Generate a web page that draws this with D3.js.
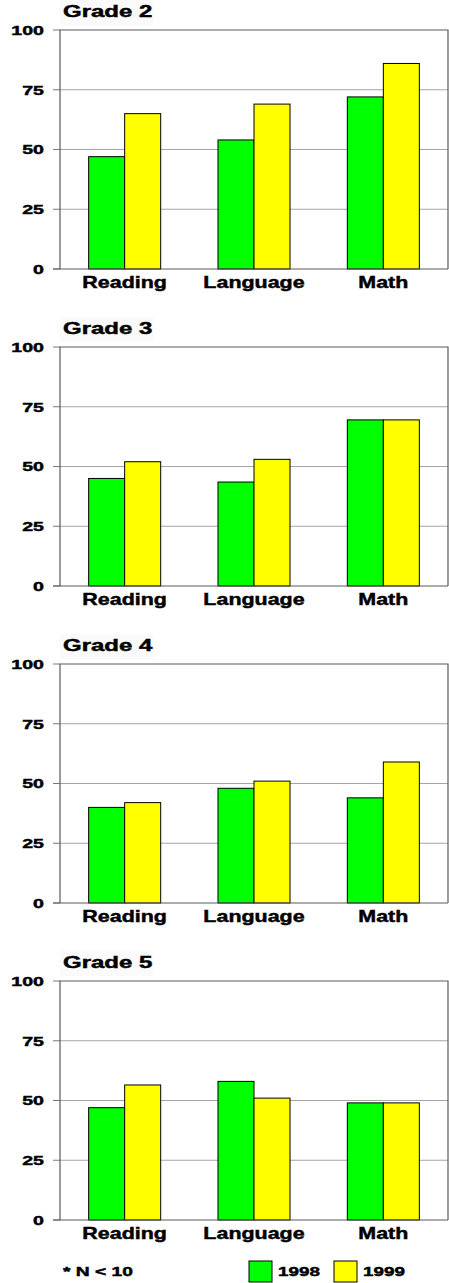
<!DOCTYPE html>
<html>
<head>
<meta charset="utf-8">
<script src="https://cdn.jsdelivr.net/npm/d3@7"></script>
<style>
  body { margin: 0; background: #fff; }
  text { font-family: "Liberation Sans", Arial, sans-serif; font-weight: bold; fill: #000; stroke: #000; stroke-width: 0.45px; }
</style>
</head>
<body>
<div id="chart"></div>
<script>
var grades = ["Grade 2", "Grade 3", "Grade 4", "Grade 5"]
var subjects = ["Reading", "Language", "Math"]
var years = ["1998", "1999"]
var yTicks = [0, 25, 50, 75, 100]

// values per grade, one array per year, in subject order
var values1998 = [
  [47, 54, 72],
  [45, 43.5, 69.5],
  [40, 48, 44],
  [47, 58, 49]
]
var values1999 = [
  [65, 69, 86],
  [52, 53, 69.5],
  [42, 51, 59],
  [56.5, 51, 49]
]
var footnote = "* N < 10"

var W = 449, H = 1283
var colors = { "1998": "#00ff00", "1999": "#ffff00" }

var dims = {
  "left": 60,
  "right": 448,
  "first_top": 30,
  "panel_step": 317,
  "plot_height": 239
}

var svg = d3.select("#chart").append("svg")
  .attr("width", W)
  .attr("height", H)

// wide bold lettering: draw text squeezed into a horizontal scale
function wideText(g, x, y, str, size, sx, anchor) {
  return g.append("text")
    .attr("transform", "scale(" + sx + ",1)")
    .attr("x", x / sx)
    .attr("y", y)
    .attr("font-size", size)
    .attr("text-anchor", anchor || "start")
    .text(str)
}

var x0 = d3.scaleBand()
  .domain(subjects)
  .range([dims.left, dims.right])
  .paddingInner(0.443)
  .paddingOuter(0.2215)

var x1 = d3.scaleBand()
  .domain(years)
  .range([0, x0.bandwidth()])

grades.forEach(function (grade, gi) {
  var top = dims.first_top + gi * dims.panel_step
  var bottom = top + dims.plot_height

  var y = d3.scaleLinear().domain([0, 100]).range([bottom, top])

  var g = svg.append("g").attr("class", "panel")

  // title backdrop (faint, as in the source image)
  g.append("rect")
    .attr("x", 60)
    .attr("y", top - 30)
    .attr("width", 93)
    .attr("height", 25)
    .attr("fill", "#fafafa")

  // gridlines
  g.selectAll("line.grid")
    .data(yTicks.filter(function (t) { return t > 0 && t < 100 }))
    .enter().append("line")
      .attr("class", "grid")
      .attr("x1", dims.left)
      .attr("x2", dims.right)
      .attr("y1", function (d) { return y(d) })
      .attr("y2", function (d) { return y(d) })
      .attr("stroke", "#a6a6a6")
      .attr("stroke-width", 1)

  // tick marks
  g.selectAll("line.tick")
    .data(yTicks)
    .enter().append("line")
      .attr("class", "tick")
      .attr("x1", dims.left - 7)
      .attr("x2", dims.left)
      .attr("y1", function (d) { return y(d) })
      .attr("y2", function (d) { return y(d) })
      .attr("stroke", "#7a7a7a")

  // frame
  g.append("polyline")
    .attr("points", [
      [dims.left, bottom], [dims.left, top], [dims.right, top], [dims.right, bottom]
    ].map(function (p) { return p.join(",") }).join(" "))
    .attr("fill", "none")
    .attr("stroke", "#5a5a5a")
    .attr("stroke-width", 1.2)

  var rows = [values1998[gi], values1999[gi]]
  var bars = []
  subjects.forEach(function (s, si) {
    years.forEach(function (yr, yi) {
      bars.push({ subject: s, year: yr, value: rows[yi][si] })
    })
  })

  g.selectAll("rect.bar")
    .data(bars)
    .enter().append("rect")
      .attr("class", "bar")
      .attr("x", function (d) { return x0(d.subject) + x1(d.year) })
      .attr("y", function (d) { return y(d.value) })
      .attr("width", x1.bandwidth())
      .attr("height", function (d) { return bottom - y(d.value) })
      .attr("fill", function (d) { return colors[d.year] })
      .attr("stroke", "#000")
      .attr("stroke-width", 1)

  // baseline
  g.append("line")
    .attr("x1", dims.left - 7)
    .attr("x2", dims.right)
    .attr("y1", bottom)
    .attr("y2", bottom)
    .attr("stroke", "#5a5a5a")
    .attr("stroke-width", 1.2)

  // y tick labels
  yTicks.forEach(function (t) {
    wideText(g, 44, y(t) + 5, t, 13.5, 1.45, "end")
  })

  // x labels
  subjects.forEach(function (s) {
    wideText(g, x0(s) + x0.bandwidth() / 2, bottom + 19, s, 16.5, 1.3, "middle")
  })

  // title
  wideText(g, 63, top - 13, grade, 16, 1.5, "start")
})

// footnote and legend
var legend = svg.append("g").attr("class", "legend")
wideText(legend, 63, 1276, footnote, 13, 1.48, "start")

var legendX = d3.scalePoint().domain(years).range([249, 334])
years.forEach(function (yr) {
  legend.append("rect")
    .attr("x", legendX(yr))
    .attr("y", 1261)
    .attr("width", 23)
    .attr("height", 21)
    .attr("fill", colors[yr])
    .attr("stroke", "#000")
  wideText(legend, legendX(yr) + 29, 1276, yr, 13, 1.45, "start")
})
</script>
</body>
</html>
